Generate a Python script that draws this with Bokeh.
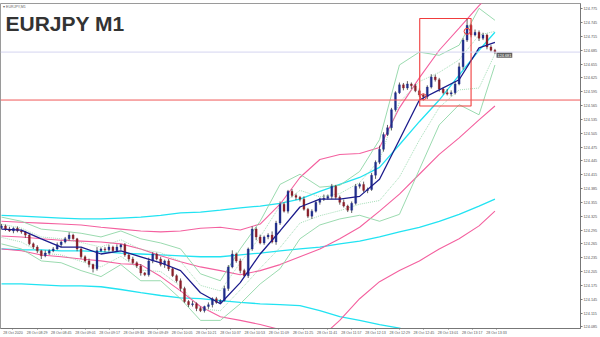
import numpy as np
from bokeh.plotting import figure
from bokeh.models import FixedTicker, Range1d, Label, Span, PrintfTickFormatter
from bokeh.embed import file_html
from bokeh.resources import INLINE

# ---------------- data ----------------
closes = [
    124.304,124.297,124.293,124.299,124.293,124.291,124.284,124.265,124.258,124.250,
    124.239,124.245,124.250,124.254,124.263,124.269,124.276,124.284,124.276,124.254,
    124.237,124.228,124.220,124.211,124.250,
    124.254,124.252,124.258,124.250,124.258,124.263,124.241,124.232,124.224,124.217,
    124.202,124.198,124.228,124.243,124.232,124.220,124.228,124.211,124.196,124.185,
    124.168,124.140,124.133,124.135,124.125,
    124.120,124.129,124.133,124.146,124.138,124.142,124.168,124.215,124.243,124.228,
    124.207,124.196,124.254,124.297,124.280,124.267,124.280,124.284,124.269,124.310,
    124.351,124.336,124.379,124.370,124.366,
    124.362,124.340,124.325,124.336,124.355,124.362,124.364,124.368,124.390,124.366,
    124.355,124.347,124.338,124.353,124.390,124.394,124.381,124.383,124.414,124.442,
    124.470,124.502,124.517,124.556,124.593,
    124.610,124.603,124.612,124.608,124.597,124.588,124.584,124.605,124.627,124.621,
    124.601,124.593,124.590,124.593,124.612,124.649,124.707,124.739,124.718,124.724,
    124.711,124.718,124.692,124.685,124.681,
]
first_open = 124.300
hi_wick = [  # thousandths of a yen above the body
    4,3,5,2,4,3,2,5,3,4,2,6,3,4,5,3,4,6,3,2,4,3,5,2,8,
    3,4,5,3,6,2,4,3,5,3,4,2,7,4,3,5,3,4,2,3,5,4,3,6,3,
    4,2,5,3,4,3,6,4,8,3,5,4,3,6,4,5,3,4,8,5,6,4,3,5,4,
    3,6,3,4,5,3,8,4,5,3,4,6,3,4,5,3,6,4,5,4,8,5,6,4,3,
    5,4,6,3,4,5,3,4,6,5,4,3,8,5,6,9,4,15,3,6,4,5,3,4,3,
]
lo_wick = [  # thousandths of a yen below the body
    3,4,2,5,3,4,6,3,4,5,7,3,4,3,2,5,3,4,2,5,4,3,6,8,4,
    3,5,4,3,2,6,4,5,3,4,6,3,4,5,3,4,7,5,3,4,6,3,5,4,6,
    3,4,5,6,3,4,2,5,3,4,6,3,5,4,7,3,4,5,3,6,4,3,5,4,6,
    5,3,4,6,3,5,4,3,6,4,5,3,4,6,3,5,4,6,3,8,4,5,3,6,4,
    3,5,4,7,3,4,8,5,3,4,6,4,3,5,4,3,6,4,5,3,6,4,5,3,4,
]

ind_idx = [0,5,10,15,20,25,30,35,40,45,50,55,60,65,70,75,80,85,90,95,100,105,110,115,120,124]
navy_ma = [124.297,124.295,124.276,124.258,124.258,124.243,124.250,124.237,124.224,124.207,
           124.159,124.135,124.181,124.243,124.293,124.345,124.362,124.362,124.368,124.405,
           124.491,124.577,124.599,124.621,124.690,124.702]
bb_up = [124.323,124.314,124.297,124.293,124.288,124.280,124.293,124.276,124.267,124.254,
         124.200,124.185,124.254,124.314,124.394,124.416,124.388,124.392,124.422,124.491,
         124.653,124.681,124.674,124.696,124.776,124.750]
bb_dn = [124.265,124.254,124.228,124.224,124.207,124.194,124.220,124.185,124.185,124.146,
         124.099,124.099,124.135,124.178,124.211,124.276,124.306,124.319,124.327,124.314,
         124.329,124.426,124.523,124.567,124.545,124.653]
bb_in_up = [124.308,124.299,124.280,124.276,124.268,124.258,124.274,124.253,124.246,124.227,
            124.175,124.163,124.224,124.280,124.348,124.381,124.367,124.374,124.398,124.447,
            124.572,124.617,124.637,124.664,124.718,124.726]
bb_in_dn = [124.279,124.269,124.245,124.241,124.227,124.215,124.238,124.208,124.205,124.173,
            124.124,124.120,124.165,124.212,124.257,124.310,124.326,124.337,124.351,124.359,
            124.410,124.490,124.561,124.599,124.603,124.677]
pink_up = [124.314,124.312,124.310,124.308,124.306,124.301,124.297,124.293,124.291,124.293,
           124.299,124.301,124.295,124.308,124.351,124.409,124.448,124.459,124.461,124.474,
           124.560,124.625,124.685,124.733,124.782,124.815]
pink_mid = [124.282,124.280,124.276,124.273,124.271,124.269,124.265,124.254,124.239,124.226,
            124.215,124.207,124.198,124.207,124.220,124.237,124.254,124.276,124.301,124.336,
            124.373,124.416,124.459,124.495,124.534,124.564]
pink_dn = [124.254,124.250,124.241,124.237,124.232,124.228,124.222,124.220,124.194,124.163,
           124.129,124.107,124.099,124.090,124.079,124.049,124.060,124.099,124.146,124.183,
           124.207,124.228,124.254,124.276,124.304,124.336]
cyan_up = [124.327,124.325,124.323,124.321,124.319,124.319,124.321,124.323,124.327,124.332,
           124.334,124.338,124.343,124.347,124.353,124.362,124.379,124.394,124.409,124.431,
           124.480,124.530,124.577,124.631,124.685,124.724]
cyan_mid = [124.254,124.252,124.252,124.250,124.250,124.248,124.245,124.243,124.241,124.239,
            124.237,124.237,124.241,124.245,124.250,124.254,124.258,124.265,124.271,124.280,
            124.291,124.301,124.314,124.329,124.347,124.362]
cyan_dn = [124.178,124.178,124.176,124.174,124.174,124.172,124.166,124.159,124.153,124.148,
           124.146,124.142,124.138,124.135,124.133,124.131,124.120,124.107,124.099,124.090,
           124.082,124.069,124.053,124.038,124.023,124.006]

price_ticks = [124.085,124.115,124.145,124.175,124.205,124.235,124.265,124.295,124.325,124.355,
               124.385,124.415,124.445,124.475,124.505,124.535,124.565,124.595,124.625,124.655,
               124.685,124.715,124.745,124.775]
time_labels = ["28 Oct 2020","28 Oct 08:29","28 Oct 08:45","28 Oct 09:01","28 Oct 09:17",
               "28 Oct 09:33","28 Oct 09:49","28 Oct 10:05","28 Oct 10:21","28 Oct 10:37",
               "28 Oct 10:53","28 Oct 11:09","28 Oct 11:25","28 Oct 11:41","28 Oct 11:57",
               "28 Oct 12:13","28 Oct 12:29","28 Oct 12:45","28 Oct 13:01","28 Oct 13:17",
               "28 Oct 13:33"]
level_price = 124.577
last_price = 124.681
box_left, box_right, box_top, box_bottom = 105.1, 118.0, 124.754, 124.564
marks_x = [106, 117]
marks_y = [124.584, 124.726]

# ---------------- build ----------------
n = min(len(closes), len(hi_wick), len(lo_wick))
c = np.array(closes[:n])
o = np.concatenate([[first_open], c[:-1]])
idx = np.arange(n)
hi = np.maximum(o, c) + np.array(hi_wick[:n]) * 0.001
lo = np.minimum(o, c) - np.array(lo_wick[:n]) * 0.001
bull = c >= o

FONT = "Liberation Sans"
p = figure(width=600, height=337, output_backend="svg", toolbar_location=None,
           x_range=Range1d(-0.25, 145.5), y_range=Range1d(124.0814, 124.7864),
           y_axis_location="right", min_border_left=0, min_border_right=17,
           min_border_top=3, min_border_bottom=7)
p.background_fill_color = "white"
p.border_fill_color = "white"
p.outline_line_color = "#9a9a9a"
p.xgrid.visible = False
p.ygrid.visible = False

# right price axis
ya = p.yaxis[0]
ya.ticker = FixedTicker(ticks=price_ticks)
ya.formatter = PrintfTickFormatter(format="%.3f")
ya.major_label_text_font_size = "3.8px"
ya.major_label_text_font = FONT
ya.major_label_text_color = "#555555"
ya.major_tick_out = 2
ya.major_tick_in = 0
ya.minor_tick_out = 0
ya.minor_tick_in = 0
ya.major_label_standoff = 1
ya.axis_line_color = "#777777"
ya.major_tick_line_color = "#777777"

# bottom time axis
xa = p.xaxis[0]
tick_pos = [round(2.875 + 6.075 * k, 4) for k in range(len(time_labels))]
xa.ticker = FixedTicker(ticks=tick_pos)
xa.major_label_overrides = {tp: lab for tp, lab in zip(tick_pos, time_labels)}
xa.major_label_text_font_size = "3.6px"
xa.major_label_text_font = FONT
xa.major_label_text_color = "#555555"
xa.major_tick_out = 1
xa.major_tick_in = 0
xa.minor_tick_out = 0
xa.minor_tick_in = 0
xa.major_label_standoff = 1
xa.axis_line_color = "#777777"
xa.major_tick_line_color = "#777777"

# long-period bands
for arr in (cyan_up, cyan_mid, cyan_dn):
    p.line(ind_idx, arr, line_color="#22e3f2", line_width=1.3)
for arr in (pink_up, pink_mid, pink_dn):
    p.line(ind_idx, arr, line_color="#f4609f", line_width=1.1)

# short bollinger
p.line(ind_idx, bb_up, line_color="#8fd6a6", line_width=0.9)
p.line(ind_idx, bb_dn, line_color="#8fd6a6", line_width=0.9)
p.line(ind_idx, bb_in_up, line_color="#8fd6a6", line_width=0.8, line_dash="1 1")
p.line(ind_idx, bb_in_dn, line_color="#8fd6a6", line_width=0.8, line_dash="1 1")

# level lines
p.add_layout(Span(location=last_price, dimension="width", line_color="#d4d4f0", line_width=1))
p.add_layout(Span(location=level_price, dimension="width", line_color="#f05858", line_width=1))

# candles
p.segment(idx, hi, idx, lo, line_color="#3a3a3a", line_width=0.8)
p.vbar(x=idx[bull], top=c[bull], bottom=o[bull], width=0.5,
       fill_color="#1f2d8a", line_color="#1f2d8a", line_width=0.3)
p.vbar(x=idx[~bull], top=o[~bull], bottom=c[~bull], width=0.5,
       fill_color="#8a1f2a", line_color="#8a1f2a", line_width=0.3)

# moving average
p.line(ind_idx, navy_ma, line_color="#1c1c8c", line_width=1.3)

# drawn objects
p.quad(left=[box_left], right=[box_right], top=[box_top], bottom=[box_bottom],
       fill_alpha=0, line_color="#f03c3c", line_width=1.1)
p.scatter(marks_x, marks_y, marker="circle", size=6, fill_alpha=0,
          line_color="#f03c3c", line_width=1)

# texts
p.add_layout(Label(x=1.0, y=124.768, text="EURJPY M1", text_font=FONT,
                   text_font_style="bold", text_font_size="21px", text_color="#333333",
                   text_baseline="top", text_align="left"))
p.add_layout(Label(x=0.4, y=124.784, text="\u25be EURJPY,M1", text_font=FONT,
                   text_font_size="3.6px", text_color="#666666",
                   text_baseline="top", text_align="left"))
p.add_layout(Label(x=124.4, y=124.674, text="124.681", text_font=FONT,
                   text_font_size="3.8px", text_color="#ffffff",
                   background_fill_color="#5f5f5f", text_baseline="middle",
                   text_align="left", padding=1))
p.add_layout(Label(x=146.1, y=last_price, text="124.681", text_font=FONT,
                   text_font_size="3.8px", text_color="#ffffff",
                   background_fill_color="#5f5f5f", text_baseline="middle",
                   text_align="left", padding=1))
p.add_layout(Label(x=146.1, y=level_price, text="124.577", text_font=FONT,
                   text_font_size="3.8px", text_color="#ffffff",
                   background_fill_color="#ff1a1a", text_baseline="middle",
                   text_align="left", padding=1))

open("out.html", "w").write(file_html(p, INLINE))
